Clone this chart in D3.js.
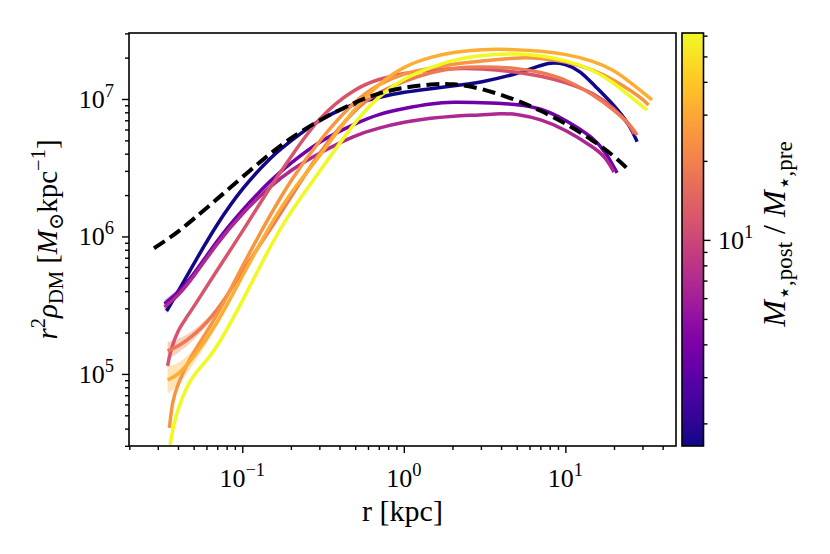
<!DOCTYPE html>
<html>
<head>
<meta charset="utf-8">
<script src="https://cdn.jsdelivr.net/npm/d3@7"></script>
<style>
  body { margin: 0; background: #fff; }
  svg text { font-family: "Liberation Serif", "DejaVu Serif", serif; fill: #000; }
</style>
</head>
<body>
<svg id="chart" width="830" height="554"></svg>
<script>
// r [kpc] and r^2 rho_DM [Msun/kpc], one halo per array pair
// stellar mass ratio M*,post / M*,pre for each halo (sets the colour)
const haloRatios = [1.7, 3.6, 6.8, 12, 18.5, 25, 32, 61];

const halo1R   = [0.034, 0.04, 0.05, 0.07, 0.1, 0.15, 0.2, 0.3, 0.5, 0.7, 1, 1.5, 2, 3, 5, 7, 8, 10, 12.4, 15, 20, 25, 27.8];
const halo1Rho = [2.87e5, 3.95e5, 6.31e5, 1.243e6, 2.253e6, 3.786e6, 4.949e6, 7.153e6, 9.35e6, 1.025e7, 1.124e7, 1.192e7, 1.243e7, 1.318e7, 1.52e7, 1.752e7, 1.84e7, 1.81e7, 1.598e7, 1.264e7, 9.04e6, 6.47e6, 4.89e6];
const halo1Band = [0.02, 0.012, 0.006];

const halo2R   = [0.033, 0.04, 0.05, 0.07, 0.1, 0.15, 0.2, 0.3, 0.5, 0.7, 1, 1.5, 2, 3, 5, 7, 10, 15, 17.7, 20.9];
const halo2Rho = [3.23e5, 3.88e5, 5.25e5, 9.43e5, 1.558e6, 2.576e6, 3.424e6, 4.95e6, 6.63e6, 7.78e6, 8.53e6, 9.28e6, 9.51e6, 9.40e6, 9.20e6, 8.60e6, 7.09e6, 5.21e6, 4.12e6, 2.90e6];
const halo2Band = [0.03, 0.02, 0.01, 0.005];

const halo3R   = [0.033, 0.04, 0.05, 0.07, 0.1, 0.15, 0.2, 0.3, 0.5, 0.7, 1, 1.5, 2, 3, 4, 5, 7, 10, 15, 17.7, 20];
const halo3Rho = [3.07e5, 3.69e5, 5.08e5, 8.97e5, 1.482e6, 2.33e6, 3.045e6, 4.05e6, 5.47e6, 6.15e6, 6.80e6, 7.27e6, 7.52e6, 7.65e6, 7.84e6, 7.78e6, 7.15e6, 6.00e6, 4.44e6, 3.79e6, 2.94e6];
const halo3Band = [0.03, 0.02, 0.01, 0.005];

const halo4R   = [0.0345, 0.036, 0.04, 0.045, 0.05, 0.07, 0.1, 0.15, 0.2, 0.3, 0.5, 0.7, 1, 1.5, 2, 3, 5, 7, 10, 15, 20, 25, 26.7];
const halo4Rho = [1.144e5, 1.495e5, 2.09e5, 2.555e5, 3.07e5, 5.71e5, 1.078e6, 2.33e6, 3.79e6, 7.52e6, 1.202e7, 1.398e7, 1.546e7, 1.625e7, 1.667e7, 1.667e7, 1.572e7, 1.470e7, 1.329e7, 1.106e7, 8.60e6, 6.47e6, 5.57e6];
const halo4Band = [0.025, 0.02, 0.015, 0.01, 0.006];

const halo5R   = [0.0345, 0.04, 0.05, 0.07, 0.1, 0.15, 0.2, 0.3, 0.5, 0.7, 1, 1.5, 2, 3, 5, 7, 10, 15, 20, 25, 27.8];
const halo5Rho = [1.47e5, 1.585e5, 1.89e5, 2.825e5, 5.61e5, 1.134e6, 1.938e6, 4.12e6, 8.60e6, 1.124e7, 1.352e7, 1.572e7, 1.681e7, 1.723e7, 1.681e7, 1.572e7, 1.398e7, 1.069e7, 8.32e6, 6.58e6, 5.47e6];
const halo5Band = [0.065, 0.05, 0.035, 0.018, 0.008];

const halo6R   = [0.0354, 0.037, 0.04, 0.045, 0.05, 0.07, 0.1, 0.15, 0.2, 0.3, 0.5, 0.7, 1, 1.5, 2, 3, 5, 7, 10, 15, 20, 25, 30, 32.7];
const halo6Rho = [4.05e4, 6.47e4, 8.46e4, 1.144e5, 1.445e5, 2.64e5, 6.10e5, 1.457e6, 2.576e6, 5.03e6, 9.83e6, 1.286e7, 1.546e7, 1.681e7, 1.797e7, 1.89e7, 2.004e7, 1.987e7, 1.89e7, 1.625e7, 1.375e7, 1.163e7, 1.0e7, 9.04e6];
const halo6Band = [0.02, 0.015, 0.01];

const halo7R   = [0.0345, 0.04, 0.05, 0.07, 0.1, 0.15, 0.2, 0.3, 0.5, 0.7, 1, 1.5, 2, 3, 5, 7, 10, 15, 20, 25, 30, 34.4];
const halo7Rho = [9.04e4, 9.75e4, 1.318e5, 2.31e5, 5.16e5, 1.233e6, 2.106e6, 3.79e6, 8.75e6, 1.286e7, 1.738e7, 2.037e7, 2.178e7, 2.31e7, 2.29e7, 2.234e7, 2.125e7, 1.89e7, 1.625e7, 1.329e7, 1.124e7, 9.83e6];
const halo7Band = [0.1, 0.08, 0.05, 0.025, 0.01];

const halo8R   = [0.0357, 0.0378, 0.04, 0.045, 0.05, 0.06, 0.07, 0.1, 0.15, 0.2, 0.3, 0.5, 0.7, 1, 1.5, 2, 3, 5, 7, 10, 15, 20, 25, 32];
const halo8Rho = [3.045e4, 4.40e4, 5.57e4, 7.91e4, 9.83e4, 1.243e5, 1.572e5, 3.34e5, 8.68e5, 1.532e6, 2.945e6, 6.92e6, 1.051e7, 1.421e7, 1.709e7, 1.921e7, 2.089e7, 2.142e7, 2.072e7, 1.921e7, 1.625e7, 1.307e7, 1.051e7, 8.32e6];
const halo8Band = [0.01];

// dashed reference profile
const refR   = [0.0284, 0.034, 0.04, 0.05, 0.07, 0.1, 0.15, 0.2, 0.3, 0.5, 0.7, 1, 1.5, 2, 3, 5, 7, 10, 15, 20, 24.1];
const refRho = [8.21e5, 9.43e5, 1.078e6, 1.341e6, 1.874e6, 2.708e6, 4.05e6, 5.205e6, 7.036e6, 9.51e6, 1.106e7, 1.212e7, 1.286e7, 1.296e7, 1.202e7, 9.83e6, 8.25e6, 6.69e6, 4.95e6, 3.85e6, 3.13e6];

// tick labels
const xMajorTicks = [0.1, 1, 10];
const yMajorTicks = [1e5, 1e6, 1e7];
const cbMajorTicks = [10];

const profiles = [
  { r: halo1R, rho: halo1Rho, band: halo1Band },
  { r: halo2R, rho: halo2Rho, band: halo2Band },
  { r: halo3R, rho: halo3Rho, band: halo3Band },
  { r: halo4R, rho: halo4Rho, band: halo4Band },
  { r: halo5R, rho: halo5Rho, band: halo5Band },
  { r: halo6R, rho: halo6Rho, band: halo6Band },
  { r: halo7R, rho: halo7Rho, band: halo7Band },
  { r: halo8R, rho: halo8Rho, band: halo8Band }
].map((p, i) => Object.assign(p, { ratio: haloRatios[i] }));

// layout
const plot = { left: 129, right: 676, top: 33, bottom: 446 };
const bar = { left: 682, right: 703.5 };

const svg = d3.select('#chart');

const x = d3.scaleLog().domain([0.0199, 48.4]).range([plot.left, plot.right]);
const y = d3.scaleLog().domain([2.99e4, 3.02e7]).range([plot.bottom, plot.top]);
const cScale = d3.scaleLog().domain([1.64, 61.4]).range([plot.bottom, plot.top]);
const colorOf = v => d3.interpolatePlasma((Math.log(v) - Math.log(1.64)) / (Math.log(61.4) - Math.log(1.64)));

// minor tick positions for a log axis
function minorTicks(domain) {
  const out = [];
  for (let e = -3; e <= 8; e++) {
    for (let m = 2; m <= 9; m++) {
      const v = m * Math.pow(10, e);
      if (v >= domain[0] * 0.999 && v <= domain[1] * 1.001) out.push(v);
    }
  }
  return out;
}

// writes 10^n as "10" plus a raised exponent
function powerLabel(sel, v) {
  const e = Math.round(Math.log10(v));
  sel.append('tspan').text('10');
  sel.append('tspan').attr('dy', -11).style('font-size', '18.5px').text(String(e).replace('-', '\u2212'));
}

// clip for the curves
svg.append('clipPath').attr('id', 'clip')
  .append('rect')
  .attr('x', plot.left).attr('y', plot.top)
  .attr('width', plot.right - plot.left).attr('height', plot.bottom - plot.top);

const lineGen = d3.line()
  .x(d => x(d[0])).y(d => y(d[1]))
  .curve(d3.curveBasis);

const areaGen = d3.area()
  .x(d => x(d[0])).y0(d => y(d[1])).y1(d => y(d[2]))
  .curve(d3.curveBasis);

const curves = svg.append('g').attr('clip-path', 'url(#clip)');

// shaded spread near the centre
profiles.forEach(p => {
  const pts = p.band.map((b, i) => [p.r[i], p.rho[i] * Math.pow(10, -b), p.rho[i] * Math.pow(10, b)]);
  if (pts.length < 2) return;
  curves.append('path')
    .attr('d', areaGen(pts))
    .attr('fill', colorOf(p.ratio))
    .attr('fill-opacity', 0.35)
    .attr('stroke', 'none');
});

profiles.forEach(p => {
  curves.append('path')
    .attr('d', lineGen(p.r.map((r, i) => [r, p.rho[i]])))
    .attr('fill', 'none')
    .attr('stroke', colorOf(p.ratio))
    .attr('stroke-width', 3.5)
    .attr('stroke-linecap', 'butt');
});

curves.append('path')
  .attr('d', lineGen(refR.map((r, i) => [r, refRho[i]])))
  .attr('fill', 'none')
  .attr('stroke', '#000')
  .attr('stroke-width', 4)
  .attr('stroke-dasharray', '13,6');

// axes
const xAxisG = svg.append('g').attr('transform', `translate(0,${plot.bottom})`);
xAxisG.call(d3.axisBottom(x).tickValues(minorTicks(x.domain())).tickSize(4).tickFormat(''));
xAxisG.append('g').call(d3.axisBottom(x).tickValues(xMajorTicks).tickSize(7).tickFormat(''));
xAxisG.selectAll('.domain').remove();
xAxisG.selectAll('line').attr('stroke', '#000').attr('stroke-width', 1.4);

xMajorTicks.forEach(v => {
  const t = svg.append('text')
    .attr('x', x(v)).attr('y', 487)
    .attr('text-anchor', 'middle')
    .style('font-size', '26px');
  powerLabel(t, v);
});

const yAxisG = svg.append('g').attr('transform', `translate(${plot.left},0)`);
yAxisG.call(d3.axisLeft(y).tickValues(minorTicks(y.domain())).tickSize(4).tickFormat(''));
yAxisG.append('g').call(d3.axisLeft(y).tickValues(yMajorTicks).tickSize(7).tickFormat(''));
yAxisG.selectAll('.domain').remove();
yAxisG.selectAll('line').attr('stroke', '#000').attr('stroke-width', 1.4);

yMajorTicks.forEach(v => {
  const t = svg.append('text')
    .attr('x', 114).attr('y', y(v) + 9)
    .attr('text-anchor', 'end')
    .style('font-size', '26px');
  powerLabel(t, v);
});

svg.append('rect')
  .attr('x', plot.left).attr('y', plot.top)
  .attr('width', plot.right - plot.left).attr('height', plot.bottom - plot.top)
  .attr('fill', 'none').attr('stroke', '#000').attr('stroke-width', 1.6);

// axis titles
svg.append('text')
  .attr('x', (plot.left + plot.right) / 2).attr('y', 521)
  .attr('text-anchor', 'middle').style('font-size', '30px')
  .text('r [kpc]');

const yl = svg.append('text')
  .attr('transform', `translate(57,${(plot.top + plot.bottom) / 2}) rotate(-90)`)
  .attr('text-anchor', 'middle').style('font-size', '29px');
yl.append('tspan').attr('font-style', 'italic').text('r');
yl.append('tspan').attr('dy', -12).style('font-size', '20.5px').text('2');
yl.append('tspan').attr('dy', 12).attr('font-style', 'italic').text('\u03c1');
yl.append('tspan').attr('dy', 6).style('font-size', '20.5px').text('DM');
yl.append('tspan').attr('dy', -6).text(' [');
yl.append('tspan').attr('font-style', 'italic').text('M');
yl.append('tspan').attr('dy', 6).style('font-size', '20.5px').text('\u2299');
yl.append('tspan').attr('dy', -6).text('kpc');
yl.append('tspan').attr('dy', -12).style('font-size', '20.5px').text('\u22121');
yl.append('tspan').attr('dy', 12).text(']');

// colour bar
const grad = svg.append('defs').append('linearGradient')
  .attr('id', 'plasma').attr('x1', 0).attr('y1', 1).attr('x2', 0).attr('y2', 0);
d3.range(0, 1.0001, 0.02).forEach(t => {
  grad.append('stop').attr('offset', t).attr('stop-color', d3.interpolatePlasma(t));
});

svg.append('rect')
  .attr('x', bar.left).attr('y', plot.top)
  .attr('width', bar.right - bar.left).attr('height', plot.bottom - plot.top)
  .attr('fill', 'url(#plasma)').attr('stroke', '#000').attr('stroke-width', 1.6);

const cbAxisG = svg.append('g').attr('transform', `translate(${bar.right},0)`);
cbAxisG.call(d3.axisRight(cScale).tickValues(minorTicks(cScale.domain())).tickSize(4).tickFormat(''));
cbAxisG.append('g').call(d3.axisRight(cScale).tickValues(cbMajorTicks).tickSize(7).tickFormat(''));
cbAxisG.selectAll('.domain').remove();
cbAxisG.selectAll('line').attr('stroke', '#000').attr('stroke-width', 1.4);

cbMajorTicks.forEach(v => {
  const t = svg.append('text')
    .attr('x', 718).attr('y', cScale(v) + 9)
    .style('font-size', '26px');
  powerLabel(t, v);
});

const cl = svg.append('text')
  .attr('transform', 'translate(785,234) rotate(-90)')
  .attr('text-anchor', 'middle').style('font-size', '32px');
cl.append('tspan').attr('font-style', 'italic').text('M');
cl.append('tspan').attr('dy', 7).style('font-size', '23px').text('\u22c6,post');
cl.append('tspan').attr('dy', -7).text(' / ');
cl.append('tspan').attr('font-style', 'italic').text('M');
cl.append('tspan').attr('dy', 7).style('font-size', '23px').text('\u22c6,pre');
</script>
</body>
</html>
